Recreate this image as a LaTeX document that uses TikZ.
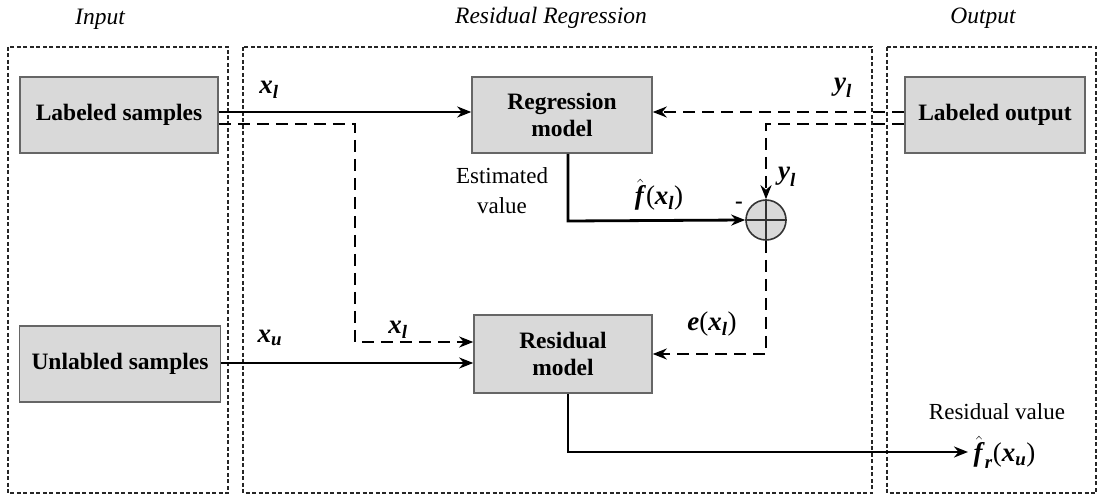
\documentclass[tikz,border=0pt]{standalone}
\usepackage{amsmath}
\usepackage{fontspec}
\setmainfont{Liberation Serif}
\usetikzlibrary{arrows.meta}
\newcommand{\bi}[1]{\textbf{\textit{#1}}}
\newcommand{\lp}{\text{(}}
\newcommand{\rp}{\text{)}}
\begin{document}
\begin{tikzpicture}[x=1pt,y=-1pt,
  every node/.style={font=\fontsize{23}{26}\selectfont},
  frame/.style={draw=black!85, line width=1.5pt, dash pattern=on 4pt off 2.5pt},
  blk/.style={draw=black!60, line width=1.6pt, fill=black!15, align=center, font=\fontsize{23.5}{27}\selectfont\bfseries, inner sep=0pt},
  sol/.style={line width=2.8pt, -{Stealth[length=14pt,width=11pt]}},
  dsh/.style={line width=2.8pt, dash pattern=on 12pt off 7pt, -{Stealth[length=14pt,width=11pt]}},
  lbl/.style={font=\fontsize{27}{30}\selectfont}
]
\useasboundingbox (0,0) rectangle (1101,497);
% frames
\draw[frame] (8,47) rectangle (228,493);
\draw[frame] (243,47) rectangle (872,493);
\draw[frame] (887,47) rectangle (1096,493);
% titles
\node[font=\fontsize{23.5}{26}\selectfont\itshape] (tin) at (100,19) {Input};
\node[font=\fontsize{23.5}{26}\selectfont\itshape] (tres) at (551,18) {Residual Regression};
\node[font=\fontsize{23.5}{26}\selectfont\itshape] (tout) at (983,18) {Output};
% blocks
\node[blk, minimum width=198pt, minimum height=76pt] (ls) at (119,115) {Labeled samples};
\node[blk, minimum width=201pt, minimum height=76pt] (us) at (120,364) {Unlabled samples};
\node[blk, minimum width=180pt, minimum height=76pt] (reg) at (562,115) {Regression\\model};
\node[blk, minimum width=180pt, minimum height=76pt] (lo) at (995,115) {Labeled output};
\node[blk, minimum width=178pt, minimum height=78pt] (rm) at (563,354) {Residual\\model};
\node[circle, draw=black!80, line width=1.6pt, fill=black!15, minimum size=40pt, inner sep=0pt] (sum) at (766,220) {};
\draw[line width=1.6pt, black!80] (sum.north) -- (sum.south) (sum.west) -- (sum.east);
% coordinates
\coordinate (c1) at (355,124);
\coordinate (c2) at (355,342);
\coordinate (c3) at (766,124);
\coordinate (c4) at (568,221);
\coordinate (c5) at (766,354);
\coordinate (c6) at (568,452);
\coordinate (out) at (968,452);
% connectors
\draw[sol] (ls.east |- 0,112) -- (reg.west |- 0,112);
\draw[dsh] (ls.east |- c1) -- (c1) -- (c2) -- (rm.west |- c2);
\draw[sol] (us.east |- 0,363) -- (rm.west |- 0,363);
\draw[dsh] (lo.west |- 0,112) -- (reg.east |- 0,112);
\draw[dsh] (lo.west |- c3) -- (c3) -- (sum.north);
\draw[sol] (reg.south -| c4) -- (c4) -- (sum.west);
\draw[dsh] (sum.south) -- (c5) -- (rm.east |- c5);
\draw[sol] (rm.south -| c6) -- (c6) -- (out);
% labels
\node[lbl] (lxl) at (269,90) {$\bi{x}_{\bi{l}}$};
\node[lbl] (lyl) at (843,88) {$\bi{y}_{\bi{l}}$};
\node[align=center, font=\fontsize{23}{30}\selectfont] (est) at (502,191) {Estimated\\value};
\node[lbl] (lf) at (659,195) {$\hat{\bi{f}}\lp\bi{x}_{\bi{l}}\rp$};
\node[font=\fontsize{23}{26}\selectfont\bfseries] (minus) at (739,205) {-};
\node[lbl] (lyl2) at (787,177) {$\bi{y}_{\bi{l}}$};
\node[lbl] (lxu) at (270,338) {$\bi{x}_{\bi{u}}$};
\node[lbl] (lxl2) at (398,330) {$\bi{x}_{\bi{l}}$};
\node[lbl] (le) at (712,324) {$\bi{e}\lp\bi{x}_{\bi{l}}\rp$};
\node (rv) at (997,412) {Residual value};
\node[lbl, anchor=west] (fr) at ([xshift=2pt]out) {$\hat{\bi{f}}_{\bi{r}}\lp\bi{x}_{\bi{u}}\rp$};
\end{tikzpicture}
\end{document}
